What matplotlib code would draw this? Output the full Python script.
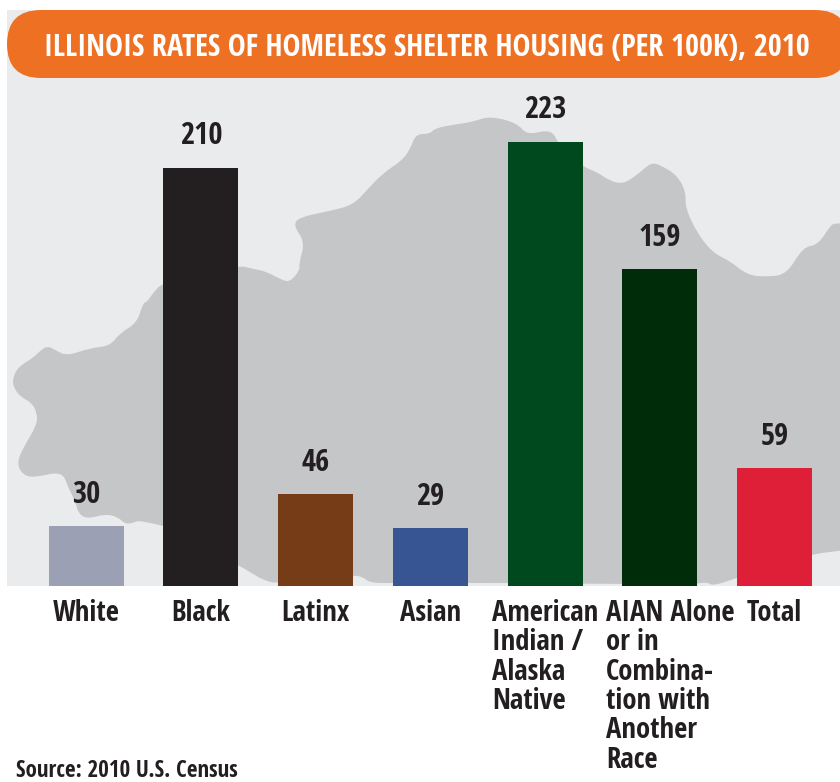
import numpy as np
import matplotlib
matplotlib.use('Agg')
import matplotlib.pyplot as plt
from matplotlib.patches import FancyBboxPatch, PathPatch, Rectangle
from matplotlib.path import Path

categories = ['White', 'Black', 'Latinx', 'Asian', 'American\nIndian /\nAlaska\nNative',
              'AIAN Alone\nor in\nCombina-\ntion with\nAnother\nRace', 'Total']
rates = [30, 210, 46, 29, 223, 159, 59]
bar_colors = ['#9BA0B4', '#231F20', '#763C17', '#365592', '#00491E', '#002C0A', '#DF1E38']
title = 'ILLINOIS RATES OF HOMELESS SHELTER HOUSING (PER 100K), 2010'
source = 'Source: 2010 U.S. Census'

# state outline in pixels, only a backdrop
state_x = [163, 140, 133, 125, 118, 105, 87, 78, 76, 68, 62, 33, 22, 17, 23, 37, 37, 32, 21, 15, 12, 18, 33, 41, 48, 55,
           67, 90, 110, 120, 137, 143, 147, 153, 163, 238, 253, 265, 282, 290, 300, 299, 305, 293, 300, 330,
           353, 367, 383, 403, 411, 416, 430, 435, 458, 472, 490, 517, 527, 547, 555, 557, 583, 597, 610, 623,
           637, 647, 653, 660, 677, 686, 685, 697, 713, 730, 747, 768, 787, 803, 818, 830, 835, 850]
state_y = [526, 520, 523, 524, 517, 514, 519, 513, 503, 487, 471, 478, 474, 463, 448, 425, 413, 403, 397, 390, 380,
           367, 358, 350, 346, 350, 356, 348, 346, 333, 323, 303, 302, 293, 282, 265, 269, 271, 280, 282, 270, 263, 242,
           225, 217, 211, 205, 190, 173, 160, 147, 134, 134, 128, 124, 122, 116, 123, 135, 130, 135, 142, 167,
           172, 181, 184, 175, 166, 163, 165, 175, 192, 207, 233, 253, 261, 275, 277, 274, 247, 245, 226, 223, 224]
state_bottom_x = [850, 812, 737, 713, 707, 697, 622, 508, 468, 393, 370, 363, 353, 278, 263, 250, 238, 163]
state_bottom_y = [550, 552, 578, 586, 582, 584, 584, 583, 583, 583, 583, 577, 575, 584, 580, 572, 565, 526]

plt.rcParams['font.family'] = ['Open Sans Condensed', 'DejaVu Sans']
plt.rcParams['font.weight'] = 'bold'

W, H, BASE = 840, 782, 586
fig = plt.figure(figsize=(W / 100, H / 100), dpi=100, facecolor='white')

# backdrop axes works straight in pixels
bg = fig.add_axes([0, 0, 1, 1])
bg.set_xlim(0, W)
bg.set_ylim(H, 0)
bg.axis('off')
panel = Rectangle((7, 10), W - 7, BASE - 10, fc='#EAEBED', ec='none', zorder=1)
bg.add_patch(panel)


def smooth_path(xs, ys):
    # quadratic curves through the midpoints so the border isn't all corners
    pts = np.column_stack([xs, ys]).astype(float)
    verts = [pts[0]]
    codes = [Path.MOVETO]
    for i in range(1, len(pts) - 1):
        mid = (pts[i] + pts[i + 1]) / 2
        verts += [pts[i], mid]
        codes += [Path.CURVE3, Path.CURVE3]
    verts.append(pts[-1])
    codes.append(Path.LINETO)
    return verts, codes


v1, c1 = smooth_path(state_x, state_y)
v2, c2 = smooth_path(state_bottom_x, state_bottom_y)
c2[0] = Path.LINETO
state = PathPatch(Path(np.array(v1 + v2), c1 + c2), fc='#C5C6C8', ec='none', zorder=2)
bg.add_patch(state)
state.set_clip_path(panel)

# title pill runs off the right edge
pill = FancyBboxPatch((7 + 34, 10 + 34), 774, 0, boxstyle='round,pad=34,rounding_size=34',
                      fc='#EE7023', ec='none', zorder=3)
bg.add_patch(pill)
bg.text(427, 56, title, color='white', fontsize=21.7, ha='center', va='baseline', zorder=4)
bg.text(16, 777, source, color='#231F20', fontsize=16.6, ha='left', va='baseline', zorder=4)

# bars get their own axes, baseline at y=586, about 2 px per unit
step = 114.72
first = 86.25
ax = fig.add_axes([0, (H - BASE) / H, 1, BASE / H])
ax.patch.set_alpha(0)
ax.set_xlim(-first / step, (W - first) / step)
ax.set_ylim(0, BASE / 1.992)
ax.axis('off')

pos = np.arange(len(categories))
ax.bar(pos, rates, width=75 / step, color=bar_colors, linewidth=0, zorder=3)

for p, r in zip(pos, rates):
    ax.annotate(str(r), (p, r), xytext=(0, 16.8), textcoords='offset points', ha='center', va='baseline',
                fontsize=22, color='#231F20')

# short names centred under the bar, long ones left aligned
for p, c in zip(pos, categories):
    if '\n' in c:
        left = {4: 492, 5: 606}[p]
        for k, line in enumerate(c.split('\n')):
            bg.text(left, 621 + k * 29.3, line, fontsize=20.7, color='#231F20', ha='left', va='baseline')
    else:
        bg.text(first + p * step, 621, c, fontsize=20.7, color='#231F20', ha='center', va='baseline')

fig.savefig('out.png', dpi=100, facecolor='white')
